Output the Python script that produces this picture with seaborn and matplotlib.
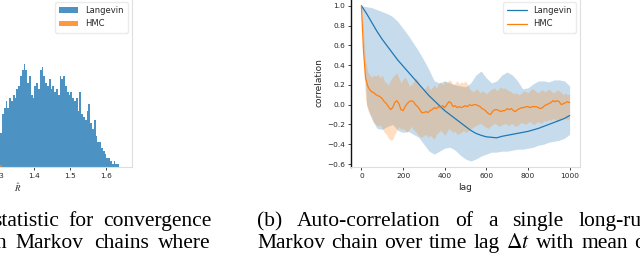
import numpy as np
import pandas as pd
import matplotlib
matplotlib.use("Agg")
import matplotlib.pyplot as plt
import seaborn as sns

# ---------------- data ----------------
# Left panel: R-hat histogram (bin width 0.005 starting at 1.100)
rhat_start = 1.100
rhat_width = 0.005
langevin_counts = [1, 1, 2, 1, 2, 2, 3, 2, 3, 4, 3, 4, 5, 4, 5, 6, 5, 6, 7, 6,
                   7, 8, 7, 8, 9, 8, 9, 10, 9, 10, 11, 10, 11, 12, 11, 12, 13, 12, 12, 13,
                   11, 11, 17, 19, 21, 19, 22, 21, 23, 22, 25, 26, 29, 31, 33, 31, 27, 29, 23, 22,
                   26, 27, 25, 31, 32, 29, 27, 26, 28, 25, 26, 24, 25, 23, 29, 28, 29, 26, 24, 23,
                   24, 22, 21, 22, 18, 24, 17, 16, 15, 18, 20, 14, 12, 15, 10, 8, 8, 6, 5, 4,
                   3, 3, 2, 1, 2, 1, 1]
hmc_counts = [20, 38, 45, 40, 36, 30, 26, 22, 18, 15, 12, 10, 8, 7, 6, 5, 4, 3, 3, 2,
              2, 2, 1, 1, 1, 1, 1, 1, 1, 1, 1, 1, 1, 0.5, 0.5, 0.5, 0.5, 0.5, 0.5, 0.5,
              0.5, 0.5]
rhat_ticks = [1.1, 1.2, 1.3, 1.4, 1.5, 1.6]

# Right panel: autocorrelation
lang_lag = list(range(0, 1001, 25))
lang_mean = [1.0, 0.92, 0.83, 0.74, 0.66, 0.59, 0.52, 0.45, 0.39, 0.33, 0.27, 0.21, 0.15,
             0.09, 0.04, -0.01, -0.06, -0.10, -0.14, -0.18, -0.22, -0.26, -0.29, -0.31,
             -0.325, -0.33, -0.335, -0.32, -0.31, -0.30, -0.29, -0.28, -0.27, -0.255,
             -0.24, -0.22, -0.20, -0.18, -0.16, -0.14, -0.11]
lang_upper = [1.0, 0.99, 0.98, 0.96, 0.94, 0.92, 0.89, 0.84, 0.77, 0.70, 0.62, 0.54, 0.45,
              0.35, 0.24, 0.22, 0.24, 0.22, 0.20, 0.19, 0.18, 0.22, 0.30, 0.34, 0.27, 0.22,
              0.24, 0.30, 0.33, 0.30, 0.24, 0.16, 0.17, 0.21, 0.24, 0.24, 0.23, 0.25, 0.25,
              0.24, 0.19]
lang_lower = [1.0, 0.0, -0.15, -0.24, -0.25, -0.22, -0.20, -0.26, -0.28, -0.27, -0.30,
              -0.33, -0.40, -0.47, -0.50, -0.47, -0.44, -0.43, -0.46, -0.51, -0.55, -0.57,
              -0.55, -0.52, -0.50, -0.48, -0.48, -0.47, -0.47, -0.46, -0.45, -0.45, -0.44,
              -0.43, -0.41, -0.40, -0.38, -0.37, -0.36, -0.34, -0.30]

hmc_lag = list(range(0, 1001, 10))
hmc_mean = [1.0, 0.55, 0.27, 0.19, 0.15, 0.13, 0.12, 0.10, 0.09, 0.08,
            0.06, 0.03, 0.01, -0.02, -0.05, -0.03, 0.02, 0.04, 0.01, -0.05,
            -0.06, -0.02, 0.01, 0.03, 0.04, 0.03, 0.0, -0.02, -0.05, -0.08,
            -0.08, -0.07, -0.08, -0.06, -0.05, -0.03, -0.04, -0.02, -0.03, -0.01,
            -0.03, 0.0, 0.03, 0.02, -0.02, -0.01, -0.03, -0.02, -0.03, -0.02,
            -0.01, -0.02, 0.0, -0.01, 0.0, 0.0, -0.01, -0.02, -0.04, -0.05,
            -0.07, -0.09, -0.10, -0.07, -0.05, -0.05, -0.06, -0.07, -0.06, -0.06,
            -0.04, -0.05, -0.04, -0.06, -0.07, -0.05, -0.04, -0.03, -0.03, -0.02,
            -0.02, -0.03, -0.02, -0.02, -0.02, -0.03, -0.04, -0.03, -0.01, 0.0,
            0.01, 0.02, 0.04, 0.03, 0.04, 0.03, 0.0, 0.01, 0.02, 0.03, 0.02]
hmc_upper = [1.0, 0.75, 0.45, 0.33, 0.30, 0.28, 0.30, 0.29, 0.31, 0.27,
             0.30, 0.24, 0.22, 0.20, 0.25, 0.28, 0.30, 0.32, 0.27, 0.22,
             0.26, 0.28, 0.24, 0.19, 0.20, 0.23, 0.27, 0.25, 0.20, 0.16,
             0.15, 0.18, 0.20, 0.15, 0.17, 0.20, 0.17, 0.21, 0.23, 0.20,
             0.24, 0.22, 0.25, 0.24, 0.20, 0.22, 0.24, 0.21, 0.23, 0.22,
             0.24, 0.20, 0.16, 0.14, 0.13, 0.16, 0.15, 0.12, 0.14, 0.13,
             0.11, 0.13, 0.15, 0.16, 0.17, 0.14, 0.16, 0.18, 0.16, 0.17,
             0.15, 0.14, 0.13, 0.11, 0.12, 0.11, 0.10, 0.12, 0.14, 0.13,
             0.12, 0.14, 0.16, 0.15, 0.13, 0.12, 0.14, 0.15, 0.13, 0.14,
             0.16, 0.14, 0.12, 0.13, 0.15, 0.14, 0.12, 0.10, 0.12, 0.10, 0.11]
hmc_lower = [1.0, 0.45, 0.05, -0.05, -0.10, -0.12, -0.18, -0.20, -0.22, -0.20,
             -0.24, -0.28, -0.30, -0.34, -0.36, -0.35, -0.30, -0.26, -0.22, -0.25,
             -0.24, -0.26, -0.28, -0.25, -0.22, -0.25, -0.27, -0.30, -0.32, -0.33,
             -0.31, -0.30, -0.33, -0.31, -0.33, -0.35, -0.30, -0.28, -0.26, -0.28,
             -0.31, -0.28, -0.24, -0.26, -0.28, -0.27, -0.30, -0.29, -0.28, -0.26,
             -0.28, -0.27, -0.25, -0.24, -0.22, -0.21, -0.20, -0.19, -0.20, -0.22,
             -0.23, -0.24, -0.22, -0.20, -0.19, -0.20, -0.22, -0.21, -0.20, -0.19,
             -0.20, -0.21, -0.19, -0.20, -0.22, -0.21, -0.19, -0.18, -0.19, -0.20,
             -0.18, -0.17, -0.19, -0.20, -0.18, -0.17, -0.19, -0.18, -0.16, -0.17,
             -0.15, -0.16, -0.14, -0.15, -0.17, -0.16, -0.14, -0.13, -0.14, -0.15, -0.14]
corr_ticks = [-0.6, -0.4, -0.2, 0.0, 0.2, 0.4, 0.6, 0.8, 1.0]
lag_ticks = [0, 200, 400, 600, 800, 1000]

series_names = ["Langevin", "HMC"]

caption_left = [["statistic", "for", "convergence"],
                ["n", "Markov", "chains", "where"]]
caption_right = [["(b)", "Auto-correlation", "of", "a", "single", "long-run"],
                 ["Markov", "chain", "over", "time", "lag", r"$\Delta t$", "with", "mean", "of"]]

# ---------------- style ----------------
sns.set_theme(style="white")
plt.rcParams["font.family"] = ["DejaVu Sans"]
plt.rcParams["mathtext.fontset"] = "stix"
BLUE = "#1f77b4"
ORANGE = "#ff7f0e"
SPINE = "#dedede"

W, H = 640, 258
fig = plt.figure(figsize=(W / 100, H / 100), dpi=100)

def frac(x0, y_top, w, h):
    return [x0 / W, 1 - (y_top + h) / H, w / W, h / H]

ax_l = fig.add_axes(frac(-97, -2, 229, 169))
ax_r = fig.add_axes(frac(351, -2, 229, 169))

# ---------------- left histogram ----------------
n_l = len(langevin_counts)
df_l = pd.DataFrame({
    "rhat": rhat_start + rhat_width * (np.arange(n_l) + 0.5),
    "count": np.asarray(langevin_counts, dtype=float),
})
sns.histplot(data=df_l, x="rhat", weights="count", binwidth=rhat_width,
             binrange=(rhat_start, rhat_start + rhat_width * n_l), ax=ax_l,
             color=BLUE, alpha=0.8, linewidth=0, label=series_names[0])
n_h = len(hmc_counts)
df_h = pd.DataFrame({
    "rhat": rhat_start + rhat_width * (np.arange(n_h) + 0.5),
    "count": np.asarray(hmc_counts, dtype=float),
})
sns.histplot(data=df_h, x="rhat", weights="count", binwidth=rhat_width,
             binrange=(rhat_start, rhat_start + rhat_width * n_h), ax=ax_l,
             color=ORANGE, alpha=0.8, linewidth=0, label=series_names[1])
ax_l.set_xlim(1.035, 1.671)
ax_l.set_ylim(0, 54)
ax_l.set_xticks(rhat_ticks)
ax_l.set_xticklabels([f"{t:.1f}" for t in rhat_ticks])
ax_l.set_yticks([])
ax_l.set_ylabel("")
ax_l.set_xlabel(r"$\hat{R}$", fontsize=6.5, labelpad=2)
ax_l.legend(loc="upper right", fontsize=6, frameon=True, handlelength=2.3,
            borderpad=0.5, labelspacing=0.5, framealpha=0.8, edgecolor="#e6e6e6",
            fancybox=True)

# ---------------- right autocorrelation ----------------
ax_r.fill_between(lang_lag, lang_lower, lang_upper, color=BLUE, alpha=0.25, linewidth=0)
ax_r.fill_between(hmc_lag, hmc_lower, hmc_upper, color=ORANGE, alpha=0.25, linewidth=0)
sns.lineplot(x=lang_lag, y=lang_mean, ax=ax_r, color=BLUE, linewidth=0.9,
             label=series_names[0])
sns.lineplot(x=hmc_lag, y=hmc_mean, ax=ax_r, color=ORANGE, linewidth=0.9,
             label=series_names[1])
ax_r.set_xlim(-50, 1050)
ax_r.set_ylim(-0.63, 1.078)
ax_r.set_xticks(lag_ticks)
ax_r.set_yticks(corr_ticks)
ax_r.set_yticklabels([f"{t:.1f}".replace("-", "\u2212") for t in corr_ticks])
ax_r.set_xlabel("lag", fontsize=6.5, labelpad=3)
ax_r.set_ylabel("correlation", fontsize=6.5, labelpad=3)
ax_r.legend(loc="upper right", fontsize=6, frameon=True, handlelength=2.3,
            borderpad=0.5, labelspacing=0.5, framealpha=0.8, edgecolor="#e6e6e6",
            fancybox=True)

for ax in (ax_l, ax_r):
    for s in ax.spines.values():
        s.set_color(SPINE)
        s.set_linewidth(0.8)
    ax.tick_params(axis="both", which="major", labelsize=5.3, length=2.5, width=0.6,
                   color="#222222", pad=1.5, bottom=True, left=True)
ax_r.spines["left"].set_color("#111111")
ax_r.spines["left"].set_linewidth(1.0)

# ---------------- captions (justified lines) ----------------
cap = dict(fontsize=15.5, family="Liberation Serif", color="black", va="baseline",
           ha="left")
renderer = fig.canvas.get_renderer()

def justify(words, y, x1, x0=None, first_right=None):
    texts = [fig.text(0, 1 - y / H, w, **cap) for w in words]
    widths = [t.get_window_extent(renderer).width for t in texts]
    if x0 is None:
        x0 = first_right - widths[0]
    gap = (x1 - x0 - sum(widths)) / max(len(words) - 1, 1)
    x = x0
    for t, w in zip(texts, widths):
        t.set_x(x / W)
        x += w + gap

Y1, Y2 = 226, 248
justify(caption_left[0], Y1, 211, first_right=59)
justify(caption_left[1], Y2, 211, first_right=6)
justify(caption_right[0], Y1, 652, x0=257)
justify(caption_right[1], Y2, 652, x0=257)

fig.savefig("out.png", dpi=100)
